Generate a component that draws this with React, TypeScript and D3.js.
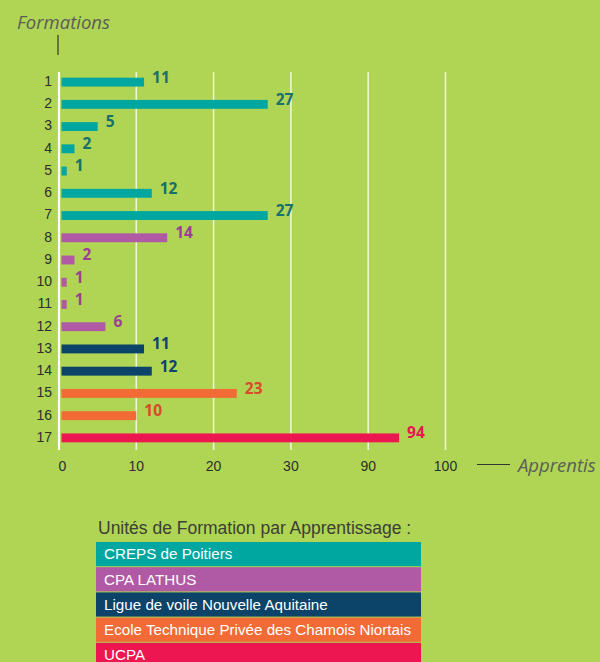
import React from 'react';
import * as d3 from 'd3';

// data
const formations = ['1', '2', '3', '4', '5', '6', '7', '8', '9', '10', '11', '12', '13', '14', '15', '16', '17'];
const apprentis = [11, 27, 5, 2, 1, 12, 27, 14, 2, 1, 1, 6, 11, 12, 23, 10, 94];
const ufaIndex = [0, 0, 0, 0, 0, 0, 0, 1, 1, 1, 1, 1, 2, 2, 3, 3, 4];
const xTicks = [0, 10, 20, 30, 90, 100];
const ufaNames = [
  'CREPS de Poitiers',
  'CPA LATHUS',
  'Ligue de voile Nouvelle Aquitaine',
  'Ecole Technique Privée des Chamois Niortais',
  'UCPA',
];
const barColors = ['#00a6a0', '#b05aa5', '#0b4369', '#f26b36', '#ee1651'];
const labelColors = ['#196f69', '#9c3f94', '#0d4272', '#d84a2b', '#e8174f'];

const width = 600;
const height = 662;

export default function App() {
  // broken axis: ticks evenly spaced, piecewise linear in between
  const x0 = 59;
  const step = 77.3;
  const x = d3.scaleLinear()
    .domain(xTicks)
    .range(xTicks.map((_, i) => x0 + i * step));

  const y = d3.scaleBand()
    .domain(formations)
    .range([71, 449])
    .paddingInner(0.6)
    .paddingOuter(0.3);

  const legend = d3.scaleBand()
    .domain(ufaNames)
    .range([542, 667])
    .paddingInner(0.04);

  const font = 'Liberation Sans, Arial, sans-serif';
  const boldFont = '"Open Sans", "DejaVu Sans", sans-serif';

  return (
    <svg width={width} height={height} style={{ position: 'absolute', left: 0, top: 0 }}>
      <rect width={width} height={height} fill="#b0d453" />

      {/* gridlines */}
      {xTicks.map((t, i) => (
        <line key={t} x1={x(t)} x2={x(t)} y1={72} y2={450}
          stroke={i === 0 ? '#ffffff' : '#eef4d6'} strokeWidth={i === 0 ? 2.2 : 1.6} />
      ))}

      {/* bars */}
      {apprentis.map((v, i) => (
        <rect key={i} x={x(0) + 2.5} y={y(formations[i])!}
          width={x(v) - x(0) - 2.5} height={y.bandwidth()} fill={barColors[ufaIndex[i]]} />
      ))}

      {/* value labels */}
      {apprentis.map((v, i) => (
        <text key={i} x={x(v) + 8} y={y(formations[i])! + y.bandwidth() / 2 - 5}
          dy="0.35em" fontFamily={boldFont} fontWeight="bold" fontSize={15.5}
          fill={labelColors[ufaIndex[i]]}>{v}</text>
      ))}

      {/* row labels */}
      {formations.map(f => (
        <text key={f} x={52} y={y(f)! + y.bandwidth() / 2 - 1} dy="0.35em"
          textAnchor="end" fontFamily={font} fontSize={14} fill="#2e2e2e">{f}</text>
      ))}

      {/* x tick labels */}
      {xTicks.map((t, i) => (
        <text key={t} x={x(t) + (i === 0 ? 3.5 : 0)} y={466} dy="0.35em" textAnchor="middle"
          fontFamily={font} fontSize={14} fill="#2e2e2e">{t}</text>
      ))}

      {/* axis titles */}
      <text x={17} y={29} fontFamily={boldFont} fontStyle="italic" fontSize={18.5} fill="#5a5e58">Formations</text>
      <line x1={58} x2={58} y1={35} y2={55} stroke="#333" strokeWidth={1.2} />
      <line x1={477} x2={510} y1={464.5} y2={464.5} stroke="#333" strokeWidth={1.2} />
      <text x={518} y={466} dy="0.35em" fontFamily={boldFont} fontStyle="italic" fontSize={18.5} fill="#5a5e58">Apprentis</text>

      {/* legend */}
      <text x={98} y={534} fontFamily={font} fontSize={17.5} fill="#3b4035">Unités de Formation par Apprentissage :</text>
      {ufaNames.map((n, i) => (
        <g key={n}>
          <rect x={96} y={legend(n)!} width={325} height={legend.bandwidth()} fill={barColors[i]} />
          <text x={104} y={legend(n)! + legend.bandwidth() / 2} dy="0.35em"
            fontFamily={font} fontSize={15.2} fill="#ffffff">{n}</text>
        </g>
      ))}
    </svg>
  );
}
